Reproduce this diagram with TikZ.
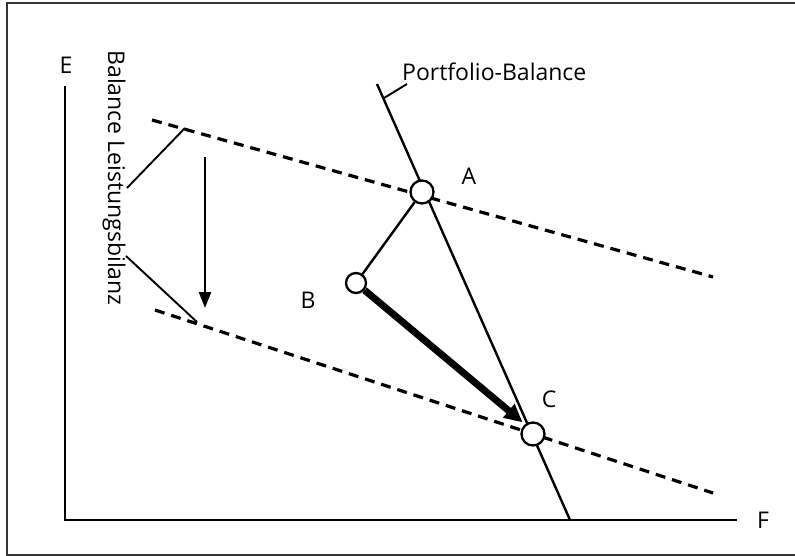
\documentclass[tikz,border=0pt]{standalone}
\usepackage{fontspec}
\setmainfont{Open Sans}
\usetikzlibrary{arrows.meta}
\begin{document}
\begin{tikzpicture}[x=1pt,y=-1pt,
  lbl/.style={inner sep=0pt,font=\fontsize{23}{26}\selectfont},
  axisline/.style={line width=2.8pt},
  thinline/.style={line width=2.4pt},
  dashline/.style={line width=3.2pt,dash pattern=on 10pt off 7pt},
  pt/.style={circle,draw,line width=2.3pt,fill=white,inner sep=0pt},
  leader/.style={line width=1.9pt}]
\useasboundingbox (0,0) rectangle (795,556);
\draw[line width=1.8pt,black!80] (7,3) rectangle (805,555);
% axes
\coordinate (O) at (65,520);
\coordinate (Ytop) at (65,86);
\coordinate (Xend) at (737,520);
\draw[axisline] (Ytop) -- (O) -- (Xend);
\node[lbl] (E) at (66,65) {E};
\node[lbl] (F) at (763,520) {F};
% dashed lines
\coordinate (U1) at (152,120);
\coordinate (U2) at (713,277);
\coordinate (L1) at (155,310);
\coordinate (L2) at (713,493);
\draw[dashline] (U1) -- (U2);
\draw[dashline] (L1) -- (L2);
% portfolio line
\coordinate (P1) at (377,84);
\coordinate (P2) at (570,520);
\draw[thinline] (P1) -- (P2);
\coordinate (PT1) at (384,98);
\coordinate (PT2) at (407,84);
\draw[leader] (PT1) -- (PT2);
\node[lbl,anchor=west] (PB) at (402,72) {Portfolio-Balance};
% points
\node[pt,minimum size=23pt] (A) at (422,192) {};
\node[pt,minimum size=20pt] (B) at (356,283) {};
\node[pt,minimum size=23pt] (C) at (533,434) {};
\node[lbl] (LA) at (469,176) {A};
\node[lbl] (LB) at (308,300) {B};
\node[lbl] (LC) at (549,399) {C};
\draw[thinline] (A) -- (B);
\coordinate (Ctip) at (521,421);
\draw[line width=7pt,-{Triangle[length=18pt,width=17pt]},shorten >=-2pt] (B) -- (Ctip);
% down arrow
\coordinate (D1) at (205,157);
\coordinate (D2) at (205,308);
\draw[line width=2.6pt,-{Triangle[length=16pt,width=12pt]}] (D1) -- (D2);
% rotated label and leaders
\node[lbl,rotate=-90] (BL) at (114,178) {Balance Leistungsbilanz};
\coordinate (LU1) at (127,188);
\coordinate (LU2) at (185,128);
\coordinate (LL1) at (126,256);
\coordinate (LL2) at (197,322);
\draw[leader] (LU1) -- (LU2);
\draw[leader] (LL1) -- (LL2);
\end{tikzpicture}
\end{document}
